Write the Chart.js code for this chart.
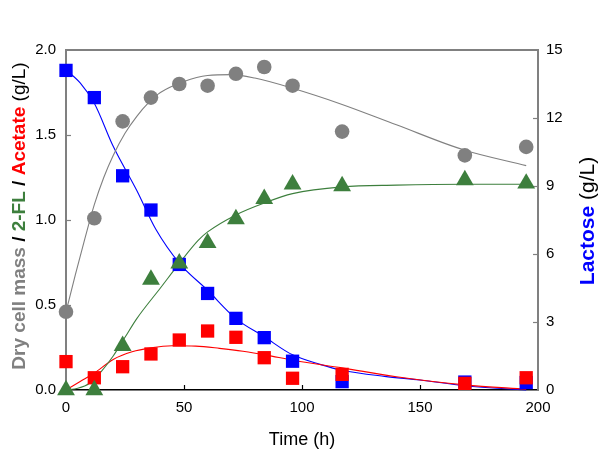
<!DOCTYPE html>
<html>
<head>
<meta charset="utf-8">
<script src="https://cdn.jsdelivr.net/npm/chart.js@4.4.0/dist/chart.umd.min.js"></script>
<style>
html,body{margin:0;padding:0;background:#ffffff;}
#wrap{width:600px;height:451px;position:relative;}
</style>
</head>
<body>
<div id="wrap"><canvas id="c" width="600" height="451"></canvas></div>
<script>
// ---- Measured data ----
const time = [0, 12, 24, 36, 48, 60, 72, 84, 96, 117, 169, 195];
const dryCellMass = [0.46, 1.01, 1.58, 1.72, 1.80, 1.79, 1.86, 1.90, 1.79, 1.52, 1.38, 1.43];
const twoFL = [0.0, 0.0, 0.26, 0.65, 0.745, 0.865, 1.005, 1.125, 1.21, 1.20, 1.235, 1.215];
const acetate = [0.167, 0.072, 0.137, 0.212, 0.294, 0.347, 0.31, 0.19, 0.069, 0.092, 0.039, 0.072];
const lactose = [14.1, 12.9, 9.45, 7.94, 5.54, 4.26, 3.16, 2.31, 1.27, 0.37, 0.35, 0.33];

// fitted curves
const dcmFitT = [0, 4, 8, 12, 16, 20, 25, 30, 35, 40, 50, 60, 70, 80, 96, 117, 140, 169, 195];
const dcmFitY = [0.46, 0.68, 0.89, 1.09, 1.25, 1.38, 1.51, 1.61, 1.69, 1.75, 1.815, 1.85, 1.855, 1.835, 1.775, 1.68, 1.56, 1.41, 1.32];
const flFitT = [0, 5, 10, 15, 20, 25, 30, 40, 48, 56, 60, 72, 84, 96, 117, 140, 169, 195];
const flFitY = [0.0, 0.01, 0.04, 0.11, 0.20, 0.31, 0.42, 0.60, 0.745, 0.88, 0.93, 1.03, 1.10, 1.155, 1.195, 1.205, 1.21, 1.21];
const acFitT = [0, 6, 12, 20, 28, 36, 45, 55, 65, 75, 85, 96, 117, 140, 169, 195];
const acFitY = [0.0, 0.05, 0.10, 0.18, 0.225, 0.248, 0.26, 0.258, 0.245, 0.228, 0.205, 0.175, 0.13, 0.078, 0.03, 0.005];
const lacFitT = [0, 6, 12, 20, 30, 38, 48, 60, 72, 84, 96, 108, 117, 135, 150, 169, 195];
const lacFitY = [14.12, 13.55, 12.65, 10.75, 8.8, 7.1, 5.6, 4.4, 3.15, 2.35, 1.55, 1.12, 0.87, 0.6, 0.44, 0.19, 0.0];

const xTicks = [0, 50, 100, 150, 200];
const yLeftTicks = [0, 0.5, 1.0, 1.5, 2.0];
const yRightTicks = [0, 3, 6, 9, 12, 15];

// ---- Styles ----
const FONT = "'Liberation Sans', Arial, sans-serif";
const GREY = '#808080', GREEN = '#3d7f3d', RED = '#ff0000', BLUE = '#0000ff', FRAME = '#808080';

function pts(xs, ys) { return xs.map((x, i) => ({x: x, y: ys[i]})); }

function marker(label, data, yAxisID, style, r, color, order) {
  return {label, data, yAxisID, showLine: false, pointStyle: style, pointRadius: r,
    pointHoverRadius: r, pointBackgroundColor: color, pointBorderColor: color,
    pointBorderWidth: 0, backgroundColor: color, borderColor: color, order, clip: false};
}
function fit(label, data, yAxisID, color, order) {
  return {label, data, yAxisID, showLine: true, pointRadius: 0, borderColor: color,
    borderWidth: 1.1, fill: false, cubicInterpolationMode: 'monotone', order, clip: false};
}

function drawRich(ctx, segs, cx, cy, rot) {
  ctx.save();
  ctx.translate(cx, cy);
  ctx.rotate(rot);
  let total = 0;
  segs.forEach(s => { ctx.font = s.font; s.w = ctx.measureText(s.text).width; total += s.w; });
  let x = -total / 2;
  ctx.textBaseline = 'middle';
  ctx.textAlign = 'left';
  segs.forEach(s => { ctx.font = s.font; ctx.fillStyle = s.color; ctx.fillText(s.text, x, 0); x += s.w; });
  ctx.restore();
}

const decor = {
  id: 'decor',
  beforeDatasetsDraw(chart) {
    const ctx = chart.ctx, a = chart.chartArea;
    const sx = chart.scales.x, sy = chart.scales.y, sy2 = chart.scales.y2;
    ctx.save();
    // top frame line
    ctx.strokeStyle = FRAME; ctx.lineWidth = 2;
    ctx.beginPath(); ctx.moveTo(a.left - 1, a.top); ctx.lineTo(a.right + 1, a.top); ctx.stroke();
    // inward ticks
    ctx.lineWidth = 1.2;
    ctx.strokeStyle = FRAME;
    sy.ticks.forEach(t => {
      if (t.value <= sy.min || t.value >= sy.max) return;
      const p = Math.round(sy.getPixelForValue(t.value)) + 0.5;
      ctx.beginPath(); ctx.moveTo(a.left, p); ctx.lineTo(a.left + 5, p); ctx.stroke();
    });
    sy2.ticks.forEach(t => {
      if (t.value <= sy2.min || t.value >= sy2.max) return;
      const p = Math.round(sy2.getPixelForValue(t.value)) + 0.5;
      ctx.beginPath(); ctx.moveTo(a.right, p); ctx.lineTo(a.right - 5, p); ctx.stroke();
    });
    ctx.strokeStyle = '#000000';
    sx.ticks.forEach(t => {
      if (t.value <= sx.min || t.value >= sx.max) return;
      const p = Math.round(sx.getPixelForValue(t.value)) + 0.5;
      ctx.beginPath(); ctx.moveTo(p, a.bottom); ctx.lineTo(p, a.bottom - 5); ctx.stroke();
    });
    ctx.restore();
  },
  afterDraw(chart) {
    const ctx = chart.ctx, a = chart.chartArea;
    const B = 'bold 19px ' + FONT, N = '19px ' + FONT;
    drawRich(ctx, [
      {text: 'Dry cell mass', font: B, color: GREY},
      {text: ' / ', font: B, color: '#000'},
      {text: '2-FL', font: B, color: GREEN},
      {text: ' / ', font: B, color: '#000'},
      {text: 'Acetate', font: B, color: RED},
      {text: ' (g/L)', font: N, color: '#000'}
    ], 20, 216, -Math.PI / 2);
    const B2 = 'bold 21px ' + FONT, N2 = '21px ' + FONT;
    drawRich(ctx, [
      {text: 'Lactose', font: B2, color: BLUE},
      {text: ' (g/L)', font: N2, color: '#000'}
    ], 588, 221, -Math.PI / 2);
    drawRich(ctx, [{text: 'Time (h)', font: '18px ' + FONT, color: '#000'}],
      (a.left + a.right) / 2, 440, 0);
  }
};

new Chart(document.getElementById('c'), {
  type: 'scatter',
  data: {
    datasets: [
      marker('Dry cell mass', pts(time, dryCellMass), 'y', 'circle', 7.3, GREY, 0),
      marker('2-FL', pts(time, twoFL), 'y', 'triangle', 10.3, GREEN, 1),
      marker('Acetate', pts(time, acetate), 'y', 'rect', 9.4, RED, 2),
      marker('Lactose', pts(time, lactose), 'y2', 'rect', 9.4, BLUE, 3),
      fit('Dry cell mass fit', pts(dcmFitT, dcmFitY), 'y', GREY, 10),
      fit('2-FL fit', pts(flFitT, flFitY), 'y', GREEN, 11),
      fit('Acetate fit', pts(acFitT, acFitY), 'y', RED, 12),
      fit('Lactose fit', pts(lacFitT, lacFitY), 'y2', BLUE, 13)
    ]
  },
  options: {
    responsive: false,
    animation: false,
    devicePixelRatio: 1,
    layout: {padding: {top: 50, left: 0, right: 0, bottom: 0}},
    plugins: {legend: {display: false}, tooltip: {enabled: false}},
    scales: {
      x: {
        type: 'linear', min: 0, max: 200,
        afterBuildTicks: s => { s.ticks = xTicks.map(v => ({value: v})); },
        afterFit: s => { s.height = 61; },
        grid: {display: false, drawTicks: false},
        border: {display: true, color: '#000000', width: 1.5},
        ticks: {padding: 9, color: '#000', font: {family: FONT, size: 15}, maxRotation: 0}
      },
      y: {
        type: 'linear', position: 'left', min: 0, max: 2,
        afterBuildTicks: s => { s.ticks = yLeftTicks.map(v => ({value: v})); },
        afterFit: s => { s.width = 66; },
        grid: {display: false, drawTicks: false},
        border: {display: true, color: FRAME, width: 2},
        ticks: {padding: 10, color: '#000', font: {family: FONT, size: 15},
          callback: v => Number(v).toFixed(1)}
      },
      y2: {
        type: 'linear', position: 'right', min: 0, max: 15,
        afterBuildTicks: s => { s.ticks = yRightTicks.map(v => ({value: v})); },
        afterFit: s => { s.width = 62; },
        grid: {display: false, drawTicks: false},
        border: {display: true, color: FRAME, width: 2},
        ticks: {padding: 8, color: '#000', font: {family: FONT, size: 15},
          callback: v => String(v)}
      }
    }
  },
  plugins: [decor]
});
</script>
</body>
</html>
